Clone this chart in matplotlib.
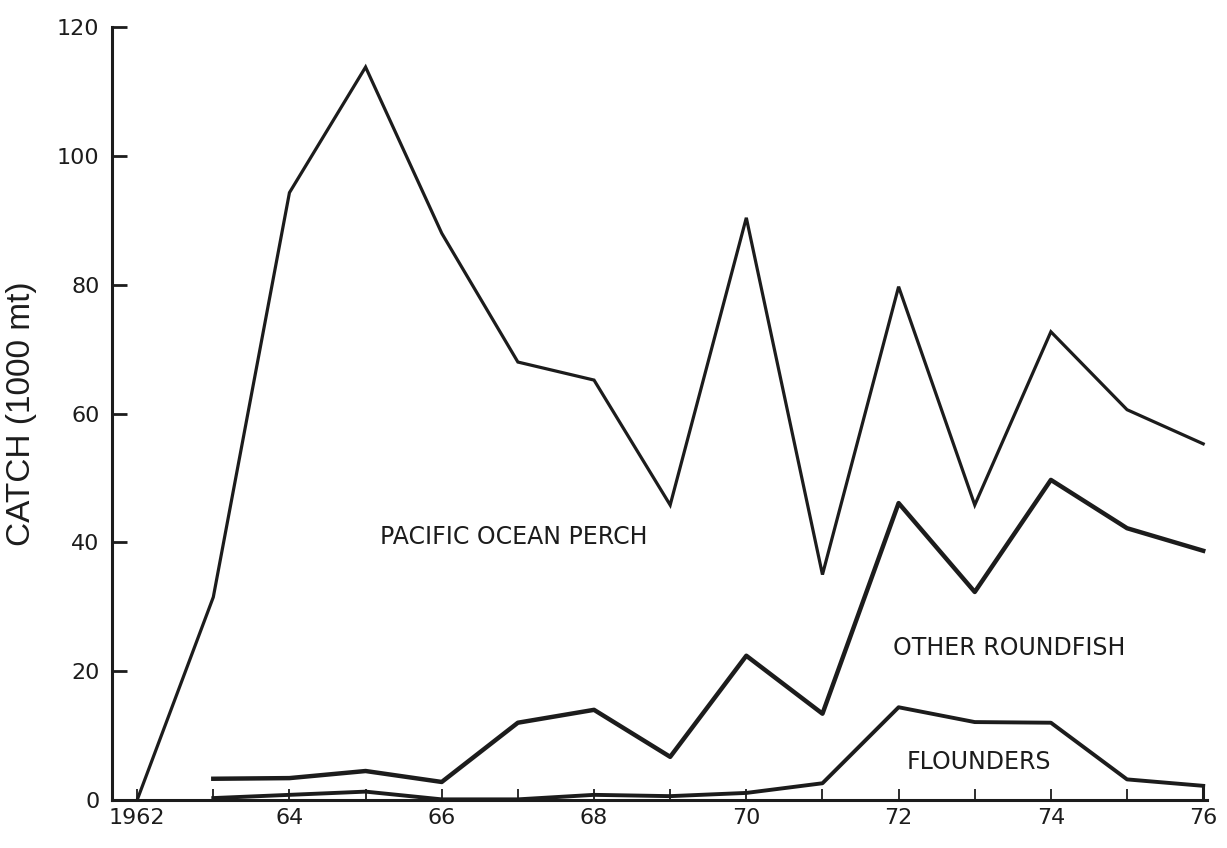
import matplotlib.pyplot as plt
import numpy as np

# catch by year (values are cumulative lines)
years = [1962, 1963, 1964, 1965, 1966, 1967, 1968, 1969, 1970, 1971, 1972, 1973, 1974, 1975, 1976]
total = [0, 31.5, 94.3, 113.8, 88, 68, 65.2, 45.8, 90.4, 35, 79.7, 45.8, 72.7, 60.6, 55.3]

years_sub = years[1:]
roundfish_top = [3.3, 3.4, 4.5, 2.8, 12, 14, 6.7, 22.4, 13.4, 46.1, 32.3, 49.7, 42.2, 38.7]
flounders = [0.3, 0.8, 1.3, 0.1, 0.1, 0.8, 0.6, 1.1, 2.6, 14.4, 12.1, 12.0, 3.2, 2.2]

tick_years = [1962, 1964, 1966, 1968, 1970, 1972, 1974, 1976]
tick_labels = ['1962', '64', '66', '68', '70', '72', '74', '76']
y_ticks = [0, 20, 40, 60, 80, 100, 120]

ink = '#1c1c1c'

fig = plt.figure(figsize=(12.27, 8.48), dpi=100)
ax = fig.add_axes([0.0913, 0.0566, 0.8924, 0.9114])

ax.plot(years, total, color=ink, lw=2.3, solid_joinstyle='miter')
ax.plot(years_sub, roundfish_top, color=ink, lw=3.2)
ax.plot(years_sub, flounders, color=ink, lw=2.8)
# closing edge of the flounders band at the right end
ax.plot([years_sub[-1], years_sub[-1]], [0, flounders[-1]], color=ink, lw=2.2)

ax.set_xlim(1961.67, 1976.05)
ax.set_ylim(0, 120)

ax.set_xticks(tick_years)
ax.set_xticklabels(tick_labels)
ax.set_xticks(years, minor=True)
ax.set_yticks(y_ticks)

for s in ['top', 'right']:
    ax.spines[s].set_visible(False)
for s in ['left', 'bottom']:
    ax.spines[s].set_linewidth(2.2)
    ax.spines[s].set_color(ink)

ax.tick_params(axis='y', direction='in', length=11, width=2, colors=ink,
               labelsize=16, pad=9)
ax.tick_params(axis='x', which='both', direction='in', length=8, width=1.3,
               colors=ink, labelsize=16, pad=6)

ax.set_ylabel('CATCH (1000 mt)', fontsize=24, color=ink, labelpad=14,
              family=['Liberation Sans', 'DejaVu Sans'])

ax.text(1966.95, 40.8, 'PACIFIC OCEAN PERCH', fontsize=17, ha='center', va='center', color=ink)
ax.text(1973.45, 23.6, 'OTHER ROUNDFISH', fontsize=17, ha='center', va='center', color=ink)
ax.text(1973.05, 5.9, 'FLOUNDERS', fontsize=17, ha='center', va='center', color=ink)

fig.savefig('out.png', dpi=100)
